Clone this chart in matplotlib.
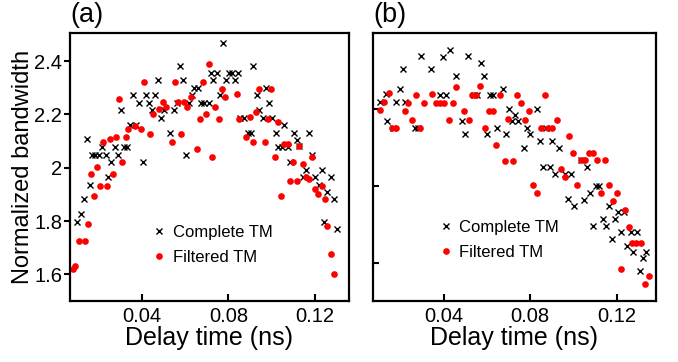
import matplotlib
matplotlib.use("Agg")
import matplotlib.pyplot as plt

plt.rcParams["font.family"] = ["Liberation Sans", "DejaVu Sans"]

# panel (a): complete TM (crosses)
aCompleteX = [0.0103, 0.0118, 0.0134, 0.0146, 0.0162, 0.0172, 0.0186, 0.0202, 0.0218, 0.0234,
	0.0246, 0.0260, 0.0277, 0.0291, 0.0303, 0.0317, 0.0334, 0.0346, 0.0362, 0.0375,
	0.0389, 0.0405, 0.0418, 0.0432, 0.0446, 0.0462, 0.0475, 0.0491, 0.0505, 0.0532,
	0.0548, 0.0562, 0.0575, 0.0591, 0.0603, 0.0618, 0.0631, 0.0643, 0.0658, 0.0674,
	0.0689, 0.0709, 0.0720, 0.0731, 0.0746, 0.0760, 0.0775, 0.0788, 0.0803, 0.0818,
	0.0829, 0.0846, 0.0855, 0.0872, 0.0889, 0.0905, 0.0915, 0.0931, 0.0943, 0.0958,
	0.0974, 0.0989, 0.1003, 0.1018, 0.1031, 0.1046, 0.1058, 0.1074, 0.1085, 0.1102,
	0.1115, 0.1128, 0.1143, 0.1158, 0.1172, 0.1188, 0.1202, 0.1217, 0.1231, 0.1243,
	0.1257, 0.1274, 0.1288, 0.1300]
aCompleteY = [1.798, 1.825, 1.881, 2.106, 1.936, 2.049, 2.049, 2.049, 2.076, 2.049,
	1.965, 2.020, 2.076, 2.049, 2.215, 2.076, 2.076, 2.161, 2.271, 2.161,
	2.243, 2.020, 2.271, 2.243, 2.215, 2.271, 2.328, 2.188, 2.215, 2.131,
	2.215, 2.243, 2.383, 2.328, 2.049, 2.243, 2.271, 2.300, 2.300, 2.243,
	2.243, 2.243, 2.356, 2.328, 2.356, 2.271, 2.466, 2.328, 2.356, 2.356,
	2.328, 2.356, 2.188, 2.188, 2.131, 2.131, 2.383, 2.271, 2.215, 2.188,
	2.300, 2.243, 2.188, 2.131, 2.076, 2.076, 2.160, 2.076, 2.020, 2.131,
	2.104, 2.080, 1.965, 1.991, 2.131, 2.049, 1.965, 1.936, 1.991, 1.798,
	1.909, 1.965, 1.881, 1.769]

# panel (a): filtered TM (red dots)
aFilteredX = [0.0082, 0.0094, 0.0111, 0.0137, 0.0152, 0.0166, 0.0180, 0.0194, 0.0208, 0.0223,
	0.0238, 0.0252, 0.0266, 0.0282, 0.0297, 0.0311, 0.0326, 0.0338, 0.0367, 0.0395,
	0.0411, 0.0440, 0.0454, 0.0482, 0.0497, 0.0511, 0.0540, 0.0554, 0.0569, 0.0583,
	0.0597, 0.0611, 0.0626, 0.0654, 0.0669, 0.0683, 0.0697, 0.0712, 0.0726, 0.0740,
	0.0755, 0.0769, 0.0783, 0.0840, 0.0851, 0.0883, 0.0898, 0.0912, 0.0928, 0.0942,
	0.0971, 0.0985, 0.0998, 0.1015, 0.1029, 0.1042, 0.1058, 0.1074, 0.1085, 0.1100,
	0.1115, 0.1128, 0.1143, 0.1157, 0.1171, 0.1188, 0.1202, 0.1215, 0.1231, 0.1245,
	0.1257, 0.1272, 0.1286]
aFilteredY = [1.621, 1.631, 1.725, 1.725, 1.790, 1.976, 1.893, 2.004, 1.930, 2.098,
	1.930, 2.108, 1.976, 2.116, 2.258, 2.023, 2.116, 2.144, 2.155, 2.144,
	2.323, 2.126, 2.201, 2.219, 2.248, 2.229, 2.098, 2.323, 2.248, 2.125,
	2.248, 2.229, 2.266, 2.070, 2.181, 2.323, 2.200, 2.388, 2.041, 2.229,
	2.181, 2.294, 2.266, 2.276, 2.181, 2.116, 2.191, 2.098, 2.210, 2.294,
	2.098, 2.181, 2.294, 2.041, 2.173, 1.893, 2.088, 2.088, 1.949, 2.023,
	1.949, 2.081, 2.014, 1.966, 1.959, 2.041, 1.920, 1.901, 1.930, 1.884,
	1.780, 1.678, 1.603]

# panel (b): complete TM
bCompleteX = [0.0108, 0.0135, 0.0138, 0.0166, 0.0182, 0.0197, 0.0212, 0.0223, 0.0266, 0.0282,
	0.0297, 0.0342, 0.0382, 0.0412, 0.0397, 0.0428, 0.0457, 0.0486, 0.0500, 0.0515,
	0.0543, 0.0557, 0.0572, 0.0586, 0.0600, 0.0614, 0.0628, 0.0645, 0.0674, 0.0688,
	0.0703, 0.0717, 0.0729, 0.0745, 0.0774, 0.0788, 0.0802, 0.0832, 0.0845, 0.0860,
	0.0874, 0.0891, 0.0903, 0.0917, 0.0932, 0.0963, 0.0974, 0.0991, 0.1005, 0.1035,
	0.1048, 0.1062, 0.1077, 0.1091, 0.1105, 0.1120, 0.1135, 0.1149, 0.1165, 0.1178,
	0.1191, 0.1208, 0.1222, 0.1235, 0.1249, 0.1265, 0.1278, 0.1294, 0.1308, 0.1322,
	0.1335]
bCompleteY = [2.217, 2.237, 2.167, 2.150, 2.217, 2.250, 2.301, 2.217, 2.150, 2.150,
	2.335, 2.301, 2.234, 2.234, 2.333, 2.352, 2.284, 2.167, 2.133, 2.335,
	2.234, 2.234, 2.318, 2.284, 2.133, 2.234, 2.234, 2.150, 2.251, 2.133,
	2.200, 2.167, 2.184, 2.167, 2.099, 2.150, 2.133, 2.200, 2.116, 2.049,
	2.150, 2.049, 2.116, 2.032, 2.099, 2.032, 1.966, 2.032, 1.948, 2.067,
	1.965, 2.049, 1.982, 1.897, 1.999, 1.999, 1.914, 1.897, 1.948, 1.864,
	1.914, 1.932, 1.881, 1.932, 1.846, 1.881, 1.830, 1.881, 1.780, 1.814,
	1.830]

# panel (b): filtered TM
bFilteredX = [0.0108, 0.0126, 0.0146, 0.0163, 0.0182, 0.0220, 0.0238, 0.0255, 0.0275, 0.0292,
	0.0312, 0.0349, 0.0366, 0.0383, 0.0402, 0.0425, 0.0442, 0.0460, 0.0497, 0.0517,
	0.0532, 0.0551, 0.0571, 0.0591, 0.0608, 0.0628, 0.0643, 0.0663, 0.0683, 0.0700,
	0.0720, 0.0738, 0.0757, 0.0777, 0.0794, 0.0814, 0.0831, 0.0849, 0.0868, 0.0885,
	0.0903, 0.0925, 0.0943, 0.0962, 0.0980, 0.0998, 0.1018, 0.1035, 0.1054, 0.1072,
	0.1091, 0.1109, 0.1128, 0.1146, 0.1165, 0.1183, 0.1202, 0.1220, 0.1238, 0.1258,
	0.1272, 0.1292, 0.1315, 0.1332, 0.1351]
bFilteredY = [2.197, 2.217, 2.239, 2.150, 2.150, 2.194, 2.215, 2.171, 2.234, 2.150,
	2.215, 2.237, 2.214, 2.214, 2.214, 2.171, 2.214, 2.256, 2.194, 2.171,
	2.235, 2.235, 2.258, 2.150, 2.194, 2.194, 2.107, 2.235, 2.064, 2.172,
	2.064, 2.235, 2.214, 2.171, 2.194, 2.002, 1.981, 2.150, 2.234, 2.150,
	2.150, 2.170, 2.043, 2.022, 2.129, 2.086, 2.002, 2.067, 2.067, 2.086,
	2.086, 2.067, 1.981, 2.067, 2.002, 1.960, 1.981, 1.786, 1.938, 1.893,
	1.852, 1.852, 1.852, 1.747, 1.767]

xTicks = [0.04, 0.08, 0.12]
xTickLabels = ["0.04", "0.08", "0.12"]
aYTicks = [1.6, 1.8, 2.0, 2.2, 2.4]
aYTickLabels = ["1.6", "1.8", "2", "2.2", "2.4"]
bYTicks = [1.8, 2.0, 2.2]
seriesLabels = ["Complete TM", "Filtered TM"]

fig = plt.figure(figsize = (6.78, 3.62), dpi = 100)
axA = fig.add_axes([0.1032, 0.1685, 0.4115, 0.7403])
axB = fig.add_axes([0.5501, 0.1685, 0.4174, 0.7403])

panels = (
	(axA, aCompleteX, aCompleteY, aFilteredX, aFilteredY, "(a)", (0.296, 0.208)),
	(axB, bCompleteX, bCompleteY, bFilteredX, bFilteredY, "(b)", (0.234, 0.228)),
)

for ax, cx, cy, fx, fy, tag, legPos in panels:
	ax.plot(cx, cy, "x", color = "black", markersize = 4, markeredgewidth = 1.0, label = seriesLabels[0])
	ax.plot(fx, fy, "o", color = "#ff0000", markersize = 4.8, markeredgewidth = 0, label = seriesLabels[1])
	for s in ax.spines.values():
		s.set_linewidth(1.6)
	ax.set_xticks(xTicks)
	ax.set_xticklabels(xTickLabels)
	ax.tick_params(axis = "x", direction = "in", length = 5, width = 1.5, labelsize = 14.5, pad = 4)
	ax.set_xlabel("Delay time (ns)", fontsize = 18, labelpad = 0)
	ax.text(0, 1.018, tag, transform = ax.transAxes, ha = "left", va = "bottom", fontsize = 19.5)
	ax.legend(
		loc = "center left",
		bbox_to_anchor = legPos,
		frameon = False,
		fontsize = 12,
		handlelength = 0.8,
		handletextpad = 0.4,
		labelspacing = 0.6,
		borderpad = 0,
		borderaxespad = 0
	)

axA.set_xlim(0.0069, 0.1357)
axA.set_ylim(1.5, 2.505)
axA.set_yticks(aYTicks)
axA.set_yticklabels(aYTickLabels)
axA.tick_params(axis = "y", direction = "out", length = 4.5, width = 1.5, labelsize = 14.5, pad = 1)
axA.set_ylabel("Normalized bandwidth", fontsize = 17, labelpad = 0)

axB.set_xlim(0.0074, 0.1382)
axB.set_ylim(1.703, 2.395)
axB.set_yticks(bYTicks)
axB.set_yticklabels([])
axB.tick_params(axis = "y", direction = "in", length = 4.5, width = 1.5)

fig.savefig("out.png", dpi = 100)
